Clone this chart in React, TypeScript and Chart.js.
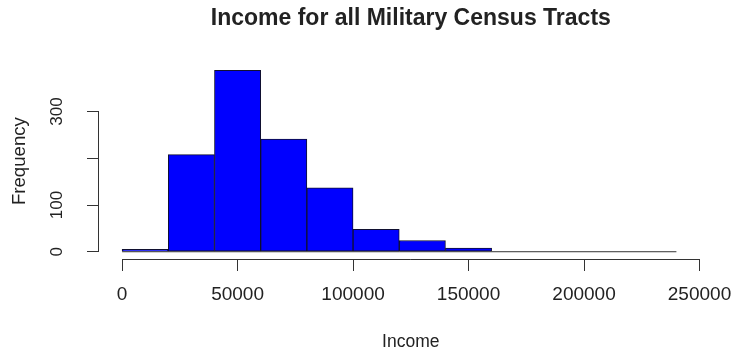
import React, { useEffect, useRef } from "react";
import { Chart, registerables } from "chart.js";

Chart.register(...registerables);

// Histogram bins (income, 20000 wide) and their counts
const binStarts = [0, 20000, 40000, 60000, 80000, 100000, 120000, 140000, 160000, 180000, 200000, 220000];
const binWidth = 20000;
const frequencies = [5, 208, 388, 241, 137, 48, 24, 8, 0, 0, 0, 0];

// Axis ticks
const xTicks = [0, 50000, 100000, 150000, 200000, 250000];
const xTickLabels = ["0", "50000", "100000", "150000", "200000", "250000"];
const yTicks = [0, 100, 200, 300];
const yTickLabels = ["0", "100", "", "300"];

const titleText = "Income for all Military Census Tracts";
const xTitle = "Income";
const yTitle = "Frequency";

const FONT = "'Liberation Sans', Arial, Helvetica, sans-serif";
const TEXT = "#222";
const AXIS = "#333";

// Draws the axis lines only over the tick span, like base R graphics
const axisLines = {
  id: "axisLines",
  afterDraw(chart: any) {
    const { ctx, chartArea, scales } = chart;
    const xs = scales.x;
    const ys = scales.y;
    ctx.save();
    ctx.strokeStyle = AXIS;
    ctx.lineWidth = 1;
    ctx.beginPath();
    const yb = Math.round(chartArea.bottom) + 0.5;
    ctx.moveTo(xs.getPixelForValue(xTicks[0]), yb);
    ctx.lineTo(xs.getPixelForValue(xTicks[xTicks.length - 1]), yb);
    const xl = Math.round(chartArea.left) - 0.5;
    ctx.moveTo(xl, ys.getPixelForValue(yTicks[0]));
    ctx.lineTo(xl, ys.getPixelForValue(yTicks[yTicks.length - 1]));
    ctx.stroke();
    ctx.restore();
  },
};

export default function App() {
  const ref = useRef<HTMLCanvasElement | null>(null);

  useEffect(() => {
    if (!ref.current) return;
    const xLo = xTicks[0];
    const xHi = xTicks[xTicks.length - 1];
    const xPad = (xHi - xLo) * 0.04;
    const yMax = Math.max(...frequencies);
    const yPad = yMax * 0.04;
    const lastEdge = binStarts[binStarts.length - 1] + binWidth;

    const chart = new Chart(ref.current, {
      type: "bar",
      data: {
        datasets: [
          {
            type: "line",
            data: [
              { x: binStarts[0], y: 0 },
              { x: lastEdge, y: 0 },
            ],
            borderColor: AXIS,
            borderWidth: 1,
            pointRadius: 0,
            order: 0,
          } as any,
          {
            type: "bar",
            data: binStarts.map((s, i) => ({ x: s + binWidth / 2, y: frequencies[i] })),
            backgroundColor: "#0000ff",
            borderColor: "#101030",
            borderWidth: 1,
            borderSkipped: false,
            barPercentage: 1,
            categoryPercentage: 1,
            order: 1,
          } as any,
        ],
      },
      options: {
        responsive: false,
        animation: false,
        layout: { padding: { left: 0, right: 12.4, top: 0, bottom: 0 } },
        plugins: {
          legend: { display: false },
          tooltip: { enabled: false },
          title: {
            display: true,
            text: titleText,
            fullSize: false,
            color: TEXT,
            font: { family: FONT, size: 23, weight: "bold", lineHeight: 1.2 },
            padding: { top: 5, bottom: 30.6 },
          },
        },
        scales: {
          x: {
            type: "linear",
            min: xLo - xPad,
            max: xHi + xPad,
            offset: false,
            border: { display: false },
            grid: { offset: false, drawOnChartArea: false, drawTicks: true, tickLength: 12, color: AXIS, lineWidth: 1 },
            afterBuildTicks: (s: any) => {
              s.ticks = xTicks.map((v) => ({ value: v }));
            },
            afterFit: (s: any) => {
              s.height = 95;
              s.paddingLeft = 0;
              s.paddingRight = 0;
            },
            ticks: {
              autoSkip: false,
              maxRotation: 0,
              minRotation: 0,
              padding: 12.6,
              color: TEXT,
              font: { family: FONT, size: 19 },
              callback: (v: any) => {
                const i = xTicks.indexOf(Number(v));
                return i >= 0 ? xTickLabels[i] : "";
              },
            },
            title: {
              display: true,
              text: xTitle,
              color: TEXT,
              font: { family: FONT, size: 17.5, lineHeight: 1.2 },
              padding: { top: 0, bottom: 1.5 },
            },
          },
          y: {
            type: "linear",
            min: -yPad,
            max: yMax + yPad,
            border: { display: false },
            grid: { drawOnChartArea: false, drawTicks: true, tickLength: 12, color: AXIS, lineWidth: 1 },
            afterBuildTicks: (s: any) => {
              s.ticks = yTicks.map((v) => ({ value: v }));
            },
            afterFit: (s: any) => {
              s.width = 99;
              s.paddingTop = 0;
              s.paddingBottom = 0;
            },
            ticks: {
              autoSkip: false,
              minRotation: 90,
              maxRotation: 90,
              crossAlign: "center",
              padding: 15.8,
              color: TEXT,
              font: { family: FONT, size: 17 },
              callback: (v: any) => {
                const i = yTicks.indexOf(Number(v));
                return i >= 0 ? yTickLabels[i] : "";
              },
            },
            title: {
              display: true,
              text: yTitle,
              color: TEXT,
              font: { family: FONT, size: 18.6, lineHeight: 1.2 },
              padding: { top: 9, bottom: 0 },
            },
          },
        },
      } as any,
      plugins: [axisLines],
    });

    return () => chart.destroy();
  }, []);

  return (
    <div style={{ position: "fixed", left: 0, top: 0, width: 735, height: 354, background: "#fff" }}>
      <canvas ref={ref} width={735} height={354} style={{ width: 735, height: 354, display: "block" }} />
    </div>
  );
}
